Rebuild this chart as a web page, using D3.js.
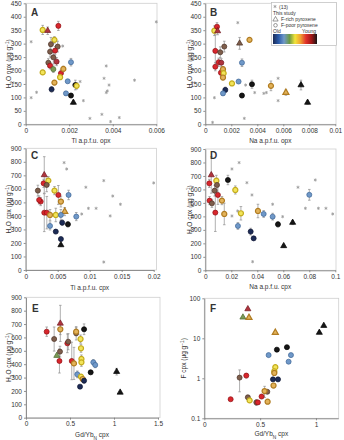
<!DOCTYPE html>
<html>
<head>
<meta charset="utf-8">
<script src="https://cdn.jsdelivr.net/npm/d3@7"></script>
<style>
  body { margin: 0; background: #fff; }
  text { font-family: "Liberation Sans", Arial, sans-serif; fill: #333; }
</style>
</head>
<body>
<div id="chart"></div>
<script>
// age classes, old -> young
const ageClasses = ["navy", "blue", "green", "yellow", "orange", "red", "darkred", "brown", "black"];

// This study: [x, y, error, age class, shape]  shape t = F-rich, c = F-poor
const tiOpx = [
  [0.00078, 351, 17, 3, "c"], [0.00101, 348, 14, 6, "t"], [0.0015, 366, 17, 5, "c"],
  [0.00132, 314, 12, 3, "c"], [0.00116, 298, 25, 7, "c"], [0.00147, 289, 20, 7, "c"],
  [0.00112, 270, 20, 7, "c"], [0.00135, 274, 15, 5, "c"], [0.00127, 249, 25, 7, "c"],
  [0.00142, 233, 15, 6, "c"], [0.00104, 229, 15, 7, "c"], [0.00112, 218, 12, 5, "c"],
  [0.00127, 205, 12, 2, "c"], [0.00078, 193, 8, 3, "c"], [0.00162, 190, 12, 5, "c"],
  [0.00173, 206, 10, 4, "c"], [0.00208, 231, 14, 1, "c"], [0.00132, 155, 8, 4, "c"],
  [0.00158, 175, 8, 3, "c"], [0.00193, 160, 6, 1, "c"], [0.00119, 130, 10, 0, "c"],
  [0.00185, 115, 6, 1, "c"], [0.00208, 107, 8, 8, "c"], [0.00228, 146, 18, 8, "c"],
  [0.00234, 143, 12, 3, "c"], [0.00219, 81, 6, 8, "t"]
];
const naOpx = [
  [0.0007, 348, 18, 3, "c"], [0.0009, 363, 15, 5, "c"], [0.00095, 347, 14, 6, "t"],
  [0.00264, 301, 22, 7, "t"], [0.0034, 314, 6, 4, "c"], [0.00146, 289, 20, 7, "c"],
  [0.00077, 273, 60, 5, "c"], [0.00115, 268, 20, 7, "c"], [0.00103, 231, 15, 5, "c"],
  [0.00123, 229, 15, 6, "c"], [0.00077, 214, 15, 5, "c"], [0.0012, 192, 12, 5, "c"],
  [0.00136, 205, 10, 4, "c"], [0.00141, 190, 10, 3, "c"], [0.00136, 174, 8, 4, "c"],
  [0.00282, 229, 14, 1, "c"], [0.00205, 152, 6, 3, "c"], [0.00256, 159, 6, 1, "c"],
  [0.00359, 149, 15, 8, "c"], [0.00154, 128, 10, 0, "c"], [0.00136, 115, 6, 1, "c"],
  [0.00282, 107, 8, 8, "c"], [0.00505, 143, 18, 4, "c"], [0.0062, 118, 10, 4, "t"],
  [0.00736, 146, 18, 8, "t"], [0.00787, 81, 6, 8, "t"]
];
const tiCpx = [
  [0.0029, 703, 135, 6, "t"], [0.0028, 641, 30, 5, "c"], [0.00354, 661, 30, 3, "c"],
  [0.00328, 629, 50, 7, "c"], [0.0019, 587, 40, 7, "c"], [0.00234, 506, 30, 5, "c"],
  [0.0021, 518, 30, 5, "c"], [0.0045, 587, 30, 3, "c"], [0.0051, 555, 70, 5, "c"],
  [0.0055, 506, 40, 4, "c"], [0.0067, 555, 35, 1, "c"], [0.0061, 432, 30, 4, "t"],
  [0.0029, 424, 140, 5, "c"], [0.0033, 424, 120, 5, "c"], [0.0038, 407, 40, 4, "c"],
  [0.0047, 407, 50, 3, "c"], [0.0055, 407, 40, 1, "c"], [0.0079, 395, 30, 1, "c"],
  [0.0038, 326, 30, 1, "c"], [0.0057, 350, 20, 0, "c"], [0.0066, 338, 20, 8, "c"],
  [0.0047, 284, 15, 0, "c"], [0.0055, 229, 12, 0, "c"], [0.0055, 185, 10, 8, "t"]
];
const naCpx = [
  [0.0046, 707, 135, 6, "t"], [0.0031, 645, 30, 5, "c"], [0.0085, 665, 40, 3, "c"],
  [0.009, 633, 50, 7, "c"], [0.0072, 591, 40, 7, "c"], [0.0097, 559, 70, 5, "c"],
  [0.0033, 517, 30, 5, "c"], [0.0051, 497, 30, 7, "c"], [0.0077, 428, 140, 5, "c"],
  [0.0128, 517, 30, 4, "c"], [0.0146, 418, 80, 4, "c"], [0.0174, 670, 35, 8, "c"],
  [0.0231, 596, 30, 3, "c"], [0.0251, 329, 25, 1, "c"], [0.0274, 423, 50, 3, "c"],
  [0.0405, 440, 50, 4, "c"], [0.0449, 418, 25, 1, "c"], [0.0518, 398, 25, 1, "c"],
  [0.0349, 287, 25, 0, "c"], [0.0372, 237, 12, 0, "c"], [0.0559, 341, 20, 8, "c"],
  [0.0603, 181, 10, 8, "t"], [0.0672, 354, 15, 8, "t"], [0.08, 560, 40, 1, "c"]
];
const gdYbH2o = [
  [0.235, 643, 35, 5, "c"], [0.32, 588, 90, 7, "c"], [0.35, 464, 10, 2, "t"],
  [0.39, 705, 135, 6, "t"], [0.39, 661, 40, 4, "c"], [0.386, 494, 40, 7, "c"],
  [0.38, 424, 90, 5, "c"], [0.47, 556, 70, 5, "c"], [0.48, 568, 60, 7, "c"],
  [0.52, 424, 140, 5, "c"], [0.545, 406, 120, 4, "c"], [0.57, 631, 50, 7, "c"],
  [0.57, 643, 30, 4, "c"], [0.66, 661, 40, 8, "c"], [0.583, 324, 25, 1, "c"],
  [0.625, 519, 30, 3, "c"], [0.62, 588, 30, 3, "c"], [0.63, 439, 30, 3, "c"],
  [0.63, 414, 30, 3, "c"], [0.625, 307, 15, 3, "c"], [0.644, 289, 15, 4, "c"],
  [0.66, 277, 20, 0, "c"], [0.614, 232, 10, 0, "c"], [0.765, 414, 20, 1, "c"],
  [0.787, 394, 20, 1, "c"], [0.735, 339, 15, 8, "c"], [1.03, 344, 25, 8, "t"],
  [1.07, 189, 8, 8, "t"]
];
const gdYbF = [
  [0.39, 54, 0, 6, "t"], [0.346, 33.5, 0, 2, "t"], [0.40, 32.8, 0, 4, "t"],
  [0.636, 13.9, 0, 4, "t"], [1.03, 13.9, 0, 8, "t"], [1.07, 20.7, 0, 8, "t"],
  [0.65, 5.2, 0.5, 8, "c"], [0.74, 6.0, 0.4, 8, "c"], [0.576, 3.8, 0, 1, "c"],
  [0.776, 3.8, 0, 1, "c"], [0.755, 2.6, 0, 1, "c"], [0.636, 1.9, 0, 3, "c"],
  [0.627, 1.5, 0, 3, "c"], [0.627, 1.36, 0, 4, "c"], [0.615, 0.94, 0, 0, "c"],
  [0.66, 0.94, 0, 0, "c"], [0.62, 0.66, 0, 4, "c"], [0.376, 1.17, 0.15, 5, "c"],
  [0.316, 1.04, 0.58, 7, "c"], [0.39, 0.335, 0.03, 7, "c"], [0.406, 0.28, 0, 3, "c"],
  [0.236, 0.3, 0, 5, "c"], [0.513, 0.35, 0.04, 5, "c"], [0.564, 0.46, 0, 7, "c"],
  [0.54, 0.48, 0.15, 4, "c"], [0.466, 0.25, 0.04, 7, "c"], [0.48, 0.25, 0, 5, "c"],
  [0.567, 0.26, 0, 4, "c"]
];

// literature data (13): [x, y]
const litTiOpx = [[0.00025, 307], [0.0005, 119], [0.00025, 99], [0.0017, 291], [0.0025, 159],
  [0.00265, 88], [0.00295, 22], [0.0037, 217], [0.0036, 171], [0.00383, 146], [0.00375, 124],
  [0.0037, 118], [0.0035, 37], [0.0039, 10], [0.0043, 25], [0.005, 164], [0.006, 381]];
const litNaOpx = [[0.0007, 99], [0.00056, 7], [0.0025, 378], [0.003, 22], [0.0031, 146],
  [0.0038, 118], [0.0045, 115], [0.0047, 118], [0.0056, 171], [0.0056, 88]];
const litTiCpx = [[0.006, 794], [0.0064, 747], [0.0094, 612], [0.0098, 456], [0.011, 456],
  [0.00875, 414], [0.0122, 661], [0.0136, 547], [0.0148, 486], [0.0132, 400], [0.02, 644], [0.0122, 59]];
const litNaCpx = [[0.0205, 752], [0.026, 799], [0.032, 650], [0.0359, 559], [0.0205, 403],
  [0.0249, 440], [0.0518, 490], [0.0595, 398], [0.0713, 616], [0.077, 460], [0.0846, 670],
  [0.087, 460], [0.0928, 460], [0.098, 418], [0.0364, 64]];

// tick values and labels
const ticksH2oOpx = [0, 50, 100, 150, 200, 250, 300, 350, 400, 450];
const ticksH2oCpx = [0, 100, 200, 300, 400, 500, 600, 700, 800, 900];
const ticksTiOpx = [0, 0.002, 0.004, 0.006];
const labelsTiOpx = ["0", "0.002", "0.004", "0.006"];
const ticksNaOpx = [0, 0.002, 0.004, 0.006, 0.008, 0.01];
const labelsNaOpx = ["0", "0.002", "0.004", "0.006", "0.008", "0.01"];
const ticksTiCpx = [0, 0.005, 0.01, 0.015, 0.02];
const labelsTiCpx = ["0", "0.005", "0.01", "0.015", "0.02"];
const ticksNaCpx = [0, 0.02, 0.04, 0.06, 0.08, 0.1];
const labelsNaCpx = ["0", "0.02", "0.04", "0.06", "0.08", "0.1"];
const ticksGdYbE = [0, 0.5, 1, 1.5];
const labelsGdYbE = ["0", "0.5", "1", "1.5"];
const ticksGdYbF = [0, 0.5, 1];
const labelsGdYbF = ["0", "0.5", "1"];
const ticksF = [0.1, 1, 10, 100];
const labelsF = ["0.1", "1", "10", "100"];

// colours per age class (styling)
const ageFill = ["#1c2b55", "#6f98c8", "#7a9a55", "#f2e45a", "#e3b35a", "#d8262c", "#b0343e", "#7e5e4c", "#161616"];
const ageStroke = ["#0e1633", "#3e6696", "#4d6a30", "#c4ac1c", "#b07c22", "#8e1014", "#701820", "#4c3226", "#000"];

const svg = d3.select("#chart").append("svg")
    .attr("width", 344)
    .attr("height", 440);

function yTitle(g, cx, cy, parts) {
  const t = g.append("text")
      .attr("transform", "translate(" + cx + "," + cy + ") rotate(-90)")
      .attr("text-anchor", "middle")
      .attr("font-size", 6.5);
  parts.forEach(function (p) {
    const ts = t.append("tspan").text(p[0]);
    if (p[1]) ts.attr("baseline-shift", p[1] > 0 ? "super" : "sub").attr("font-size", 4.8);
  });
}

function xTitle(g, cx, cy, parts) {
  const t = g.append("text")
      .attr("x", cx).attr("y", cy)
      .attr("text-anchor", "middle")
      .attr("font-size", 6.5);
  parts.forEach(function (p) {
    const ts = t.append("tspan").text(p[0]);
    if (p[1]) ts.attr("baseline-shift", p[1] > 0 ? "super" : "sub").attr("font-size", 4.8);
  });
}

function drawPanel(p) {
  const g = svg.append("g");
  const x = d3.scaleLinear().domain(p.xDomain).range(p.xRange);
  const y = (p.log ? d3.scaleLog() : d3.scaleLinear()).domain(p.yDomain).range(p.yRange);

  // plot frame
  g.append("rect")
      .attr("x", p.xRange[0]).attr("y", p.yRange[1])
      .attr("width", p.frameRight - p.xRange[0])
      .attr("height", p.yRange[0] - p.yRange[1])
      .attr("fill", "none")
      .attr("stroke", "#cfcfcf")
      .attr("stroke-width", 0.8);

  const xAxis = d3.axisBottom(x).tickValues(p.xTicks)
      .tickFormat((d, i) => p.xLabels[i]).tickSize(2).tickSizeOuter(0).tickPadding(2);
  const yAxis = d3.axisLeft(y).tickValues(p.yTicks)
      .tickFormat((d, i) => p.yLabels[i]).tickSize(2).tickSizeOuter(0).tickPadding(2);

  const gx = g.append("g").attr("transform", "translate(0," + p.yRange[0] + ")").call(xAxis);
  const gy = g.append("g").attr("transform", "translate(" + p.xRange[0] + ",0)").call(yAxis);
  [gx, gy].forEach(function (a) {
    a.select(".domain").attr("stroke", "#777").attr("stroke-width", 0.8);
    a.selectAll(".tick line").attr("stroke", "#777").attr("stroke-width", 0.8);
    a.selectAll(".tick text").attr("font-size", 6.5).attr("fill", "#333")
        .attr("font-family", '"Liberation Sans", Arial, sans-serif');
  });

  // literature points
  const star = d3.symbol().type(d3.symbolAsterisk).size(7);
  g.selectAll(".lit").data(p.lit).enter().append("path")
      .attr("d", star)
      .attr("transform", d => "translate(" + x(d[0]) + "," + y(d[1]) + ")")
      .attr("fill", "none")
      .attr("stroke", "#9a9a9a")
      .attr("stroke-width", 0.8);

  // error bars
  const eb = g.selectAll(".eb").data(p.samples.filter(d => d[2] > 0)).enter().append("g")
      .attr("stroke", "#8e8e8e").attr("stroke-width", 0.7);
  eb.append("line")
      .attr("x1", d => x(d[0])).attr("x2", d => x(d[0]))
      .attr("y1", d => y(d[1] - d[2])).attr("y2", d => y(d[1] + d[2]));
  eb.append("line")
      .attr("x1", d => x(d[0]) - 1.3).attr("x2", d => x(d[0]) + 1.3)
      .attr("y1", d => y(d[1] + d[2])).attr("y2", d => y(d[1] + d[2]));
  eb.append("line")
      .attr("x1", d => x(d[0]) - 1.3).attr("x2", d => x(d[0]) + 1.3)
      .attr("y1", d => y(d[1] - d[2])).attr("y2", d => y(d[1] - d[2]));

  // samples
  const tri = d3.symbol().type(d3.symbolTriangle).size(16);
  const circ = d3.symbol().type(d3.symbolCircle).size(20);
  g.selectAll(".pt").data(p.samples).enter().append("path")
      .attr("d", d => d[4] === "t" ? tri() : circ())
      .attr("transform", d => "translate(" + x(d[0]) + "," + y(d[1]) + ")")
      .attr("fill", d => ageFill[d[3]])
      .attr("stroke", d => ageStroke[d[3]])
      .attr("stroke-width", d => (d[3] === 3 || d[3] === 4) ? 1.2 : 0.7);

  // panel letter
  g.append("text")
      .attr("x", p.letterPos[0]).attr("y", p.letterPos[1])
      .attr("font-size", 10).attr("font-weight", "bold").attr("fill", "#111")
      .text(p.letter);

  xTitle(g, (p.xRange[0] + p.xRange[1]) / 2, p.xTitleY, p.xTitle);
  yTitle(g, p.yTitleX, (p.yRange[0] + p.yRange[1]) / 2, p.yTitle);
  return g;
}

const h2oOpx = [["H", 0], ["2", -1], ["O opx (µg g", 0], ["−1", 1], [")", 0]];
const h2oCpx = [["H", 0], ["2", -1], ["O cpx (µg g", 0], ["−1", 1], [")", 0]];

drawPanel({ letter: "A", letterPos: [31, 16], samples: tiOpx, lit: litTiOpx,
  xDomain: [0, 0.006], xRange: [25.7, 156.3], frameRight: 157,
  yDomain: [0, 450], yRange: [124.3, 3.3],
  xTicks: ticksTiOpx, xLabels: labelsTiOpx, yTicks: ticksH2oOpx, yLabels: ticksH2oOpx,
  xTitle: [["Ti a.p.f.u. opx", 0]], xTitleY: 143, yTitle: h2oOpx, yTitleX: 11 });

const gB = drawPanel({ letter: "B", letterPos: [210, 16], samples: naOpx, lit: litNaOpx,
  xDomain: [0, 0.01], xRange: [205.3, 335.3], frameRight: 336,
  yDomain: [0, 450], yRange: [124.3, 3.3],
  xTicks: ticksNaOpx, xLabels: labelsNaOpx, yTicks: ticksH2oOpx, yLabels: ticksH2oOpx,
  xTitle: [["Na a.p.f.u. opx", 0]], xTitleY: 143, yTitle: h2oOpx, yTitleX: 192 });

drawPanel({ letter: "C", letterPos: [31, 159], samples: tiCpx, lit: litTiCpx,
  xDomain: [0, 0.02], xRange: [25.7, 153.7], frameRight: 156.5,
  yDomain: [0, 900], yRange: [270, 148.3],
  xTicks: ticksTiCpx, xLabels: labelsTiCpx, yTicks: ticksH2oCpx, yLabels: ticksH2oCpx,
  xTitle: [["Ti a.p.f.u. cpx", 0]], xTitleY: 289.5, yTitle: h2oCpx, yTitleX: 11 });

drawPanel({ letter: "D", letterPos: [210, 159], samples: naCpx, lit: litNaCpx,
  xDomain: [0, 0.1], xRange: [205.3, 335.3], frameRight: 336,
  yDomain: [0, 900], yRange: [270.3, 149],
  xTicks: ticksNaCpx, xLabels: labelsNaCpx, yTicks: ticksH2oCpx, yLabels: ticksH2oCpx,
  xTitle: [["Na a.p.f.u. cpx", 0]], xTitleY: 289, yTitle: h2oCpx, yTitleX: 192 });

drawPanel({ letter: "E", letterPos: [32, 312], samples: gdYbH2o, lit: [],
  xDomain: [0, 1.5], xRange: [26, 158], frameRight: 160,
  yDomain: [0, 900], yRange: [417.7, 297.3],
  xTicks: ticksGdYbE, xLabels: labelsGdYbE, yTicks: ticksH2oCpx, yLabels: ticksH2oCpx,
  xTitle: [["Gd/Yb", 0], ["N", -1], [" cpx", 0]], xTitleY: 436.5, yTitle: h2oCpx, yTitleX: 11 });

drawPanel({ letter: "F", letterPos: [210, 312], samples: gdYbF, lit: [], log: true,
  xDomain: [0, 1.2], xRange: [204.3, 338.3], frameRight: 338.7,
  yDomain: [0.1, 100], yRange: [418.3, 298.3],
  xTicks: ticksGdYbF, xLabels: labelsGdYbF, yTicks: ticksF, yLabels: labelsF,
  xTitle: [["Gd/Yb", 0], ["N", -1], [" cpx", 0]], xTitleY: 436,
  yTitle: [["F cpx (µg g", 0], ["−1", 1], [")", 0]], yTitleX: 186 });

// legend in panel B
const leg = gB.append("g");
leg.append("rect").attr("x", 271.5).attr("y", 2.5).attr("width", 65).attr("height", 43)
    .attr("fill", "#fff").attr("stroke", "#bbb").attr("stroke-width", 0.7);
leg.append("path").attr("d", d3.symbol().type(d3.symbolAsterisk).size(7)())
    .attr("transform", "translate(275,6.5)").attr("fill", "none").attr("stroke", "#9a9a9a").attr("stroke-width", 0.8);
const legText = [["(13)", 279, 8.5], ["This study", 273, 15], ["F-rich pyroxene", 281, 21],
  ["F-poor pyroxene", 281, 27], ["Old", 273, 32.5], ["Young", 302, 32.5]];
leg.selectAll(".lt").data(legText).enter().append("text")
    .attr("x", d => d[1]).attr("y", d => d[2])
    .attr("font-size", 5).attr("fill", "#333")
    .text(d => d[0]);
leg.append("path").attr("d", d3.symbol().type(d3.symbolTriangle).size(12)())
    .attr("transform", "translate(275.5,19.5)").attr("fill", "none").attr("stroke", "#555").attr("stroke-width", 0.6);
leg.append("circle").attr("cx", 275.5).attr("cy", 25.3).attr("r", 1.8)
    .attr("fill", "none").attr("stroke", "#555").attr("stroke-width", 0.6);

const grad = svg.append("defs").append("linearGradient").attr("id", "ageGrad");
const barColours = ["#1c2b55", "#2a5aa8", "#6f98c8", "#6b9a45", "#f2e43a", "#f0a030", "#e0302a", "#a01818", "#161616"];
barColours.forEach(function (c, i) {
  grad.append("stop").attr("offset", (i / (barColours.length - 1) * 100) + "%").attr("stop-color", c);
});
leg.append("rect").attr("x", 273).attr("y", 34).attr("width", 44).attr("height", 10)
    .attr("fill", "url(#ageGrad)");
</script>
</body>
</html>
